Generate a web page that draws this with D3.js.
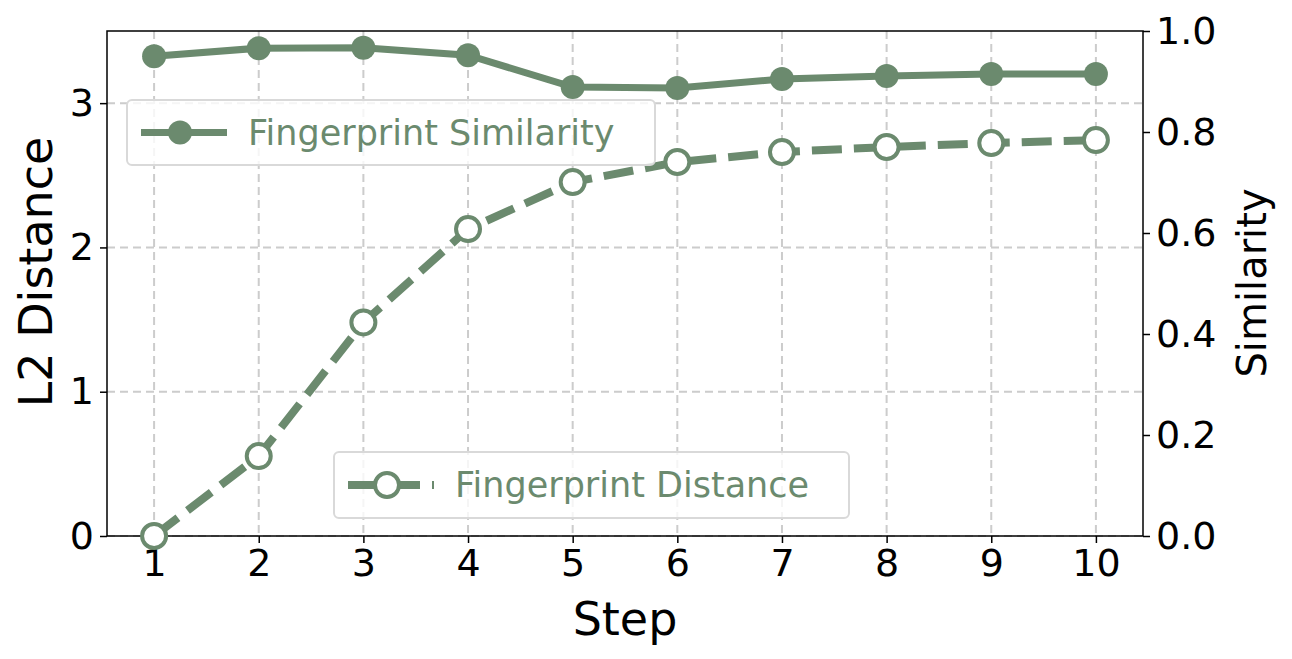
<!DOCTYPE html><html><head><script src="https://cdn.jsdelivr.net/npm/d3@7"></script>
<style>body{margin:0;background:#fff}text{font-family:"DejaVu Sans",sans-serif}</style></head><body>
<svg id="c" width="1292" height="659"></svg>
<script>
const steps=[1,2,3,4,5,6,7,8,9,10];
const similarity=[0.950,0.966,0.967,0.952,0.889,0.887,0.905,0.911,0.915,0.915];
const distance=[0.0,0.554,1.48,2.127,2.453,2.592,2.661,2.696,2.723,2.744];
const leftTicks=[0,1,2,3];
const rightTicks=[0,0.2,0.4,0.6,0.8,1.0];
const col="#6b8a6e";
const svg=d3.select("#c");
const L=107,R=1143,T=31,B=536;
const x=d3.scaleLinear().domain([0.55,10.45]).range([L,R]);
const yl=d3.scaleLinear().domain([0,3.5]).range([B,T]);
const yr=d3.scaleLinear().domain([0,1]).range([B,T]);
const g=svg.append("g");
const gs="#cccccc";
steps.forEach(s=>g.append("line").attr("x1",x(s)).attr("x2",x(s)).attr("y1",T).attr("y2",B).attr("stroke",gs).attr("stroke-width",2).attr("stroke-dasharray","8,5"));
leftTicks.forEach(t=>g.append("line").attr("x1",L).attr("x2",R).attr("y1",yl(t)).attr("y2",yl(t)).attr("stroke",gs).attr("stroke-width",2).attr("stroke-dasharray","8,5"));
svg.append("rect").attr("x",L).attr("y",T).attr("width",R-L).attr("height",B-T).attr("fill","none").attr("stroke","#000").attr("stroke-width",1.5);
const fs="38px";
svg.append("g").attr("transform",`translate(0,${B})`).call(d3.axisBottom(x).tickValues(steps).tickSize(7).tickPadding(6)).call(a=>{a.select(".domain").remove();a.selectAll("text").style("font-size",fs);a.selectAll("line").attr("stroke-width",1.5);});
svg.append("g").attr("transform",`translate(${L},0)`).call(d3.axisLeft(yl).tickValues(leftTicks).tickFormat(d3.format("d")).tickSize(7).tickPadding(6)).call(a=>{a.select(".domain").remove();a.selectAll("text").style("font-size",fs);a.selectAll("line").attr("stroke-width",1.5);});
svg.append("g").attr("transform",`translate(${R},0)`).call(d3.axisRight(yr).tickValues(rightTicks).tickFormat(d3.format(".1f")).tickSize(7).tickPadding(6)).call(a=>{a.select(".domain").remove();a.selectAll("text").style("font-size",fs);a.selectAll("line").attr("stroke-width",1.5);});
svg.append("text").attr("x",(L+R)/2).attr("y",635).attr("text-anchor","middle").style("font-size","46px").text("Step");
svg.append("text").attr("transform","translate(52,272) rotate(-90)").attr("text-anchor","middle").style("font-size","46px").text("L2 Distance");
svg.append("text").attr("transform","translate(1266,283) rotate(-90)").attr("text-anchor","middle").style("font-size","40px").text("Similarity");
const ls=d3.line().x((d,i)=>x(steps[i])).y(d=>yr(d));
svg.append("path").datum(similarity).attr("d",ls).attr("fill","none").attr("stroke",col).attr("stroke-width",7);
svg.selectAll(".s").data(similarity).enter().append("circle").attr("cx",(d,i)=>x(steps[i])).attr("cy",d=>yr(d)).attr("r",12).attr("fill",col);
const ld=d3.line().x((d,i)=>x(steps[i])).y(d=>yl(d));
svg.append("path").datum(distance).attr("d",ld).attr("fill","none").attr("stroke",col).attr("stroke-width",8).attr("stroke-dasharray","30,12");
svg.selectAll(".d").data(distance).enter().append("circle").attr("cx",(d,i)=>x(steps[i])).attr("cy",d=>yl(d)).attr("r",12).attr("fill","#fff").attr("stroke",col).attr("stroke-width",4);
function legend(bx,by,bw,bh,label,dashed){
 const lg=svg.append("g");
 lg.append("rect").attr("x",bx).attr("y",by).attr("width",bw).attr("height",bh).attr("rx",5).attr("fill","#fff").attr("fill-opacity",0.8).attr("stroke","#d9d9d9").attr("stroke-width",2);
 const cy=by+bh/2;
 lg.append("line").attr("x1",bx+14).attr("x2",bx+100).attr("y1",cy).attr("y2",cy).attr("stroke",col).attr("stroke-width",dashed?8:7).attr("stroke-dasharray",dashed?"30,12":null);
 lg.append("circle").attr("cx",bx+53).attr("cy",cy).attr("r",12).attr("fill",dashed?"#fff":col).attr("stroke",col).attr("stroke-width",dashed?4:0);
 lg.append("text").attr("x",bx+121).attr("y",cy+12).style("font-size","35px").attr("fill",col).text(label);
}
legend(127,100,528,65,"Fingerprint Similarity",false);
legend(334,452,515,66,"Fingerprint Distance",true);
</script></body></html>
